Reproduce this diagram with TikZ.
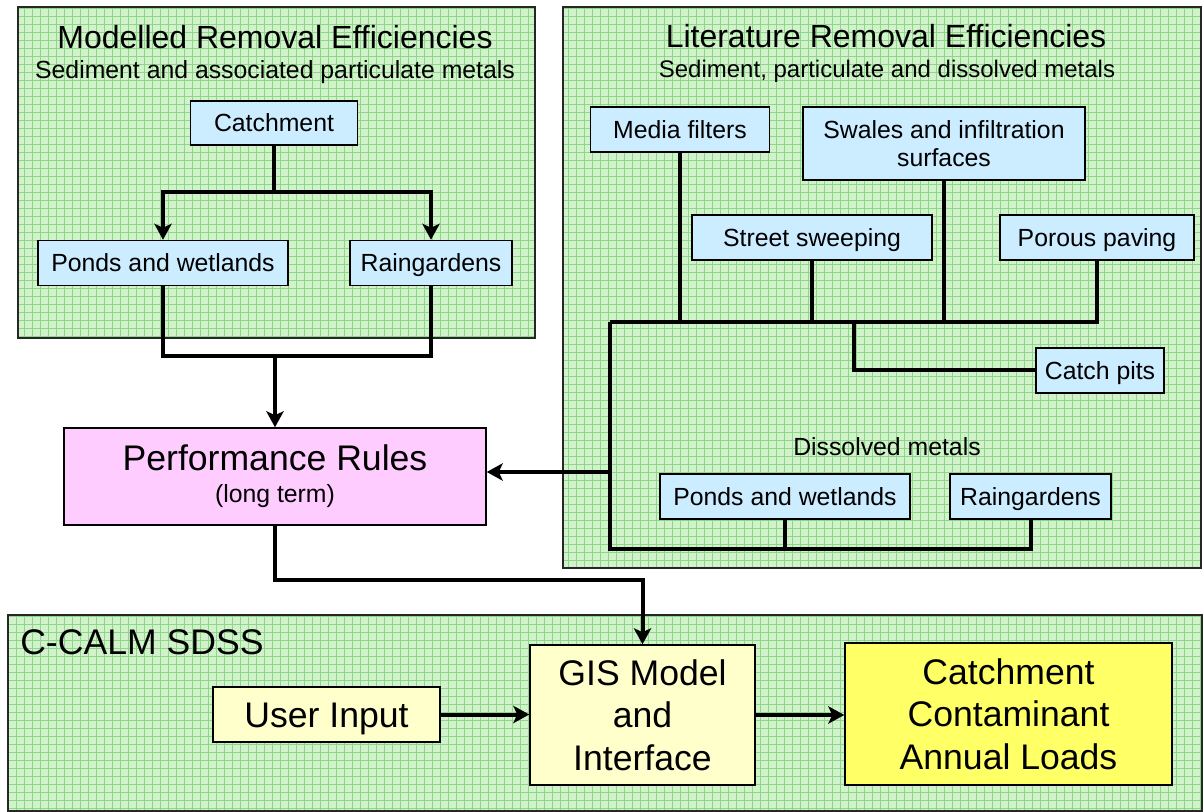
\documentclass[tikz,border=0pt]{standalone}
\usepackage{fontspec}
\setmainfont{Liberation Sans}
\usetikzlibrary{arrows.meta}
\definecolor{pgreen}{HTML}{D2F2CC}
\definecolor{ggrid}{HTML}{8CD888}
\definecolor{bbox}{HTML}{CCECFF}
\definecolor{pinkbox}{HTML}{FFCCFF}
\definecolor{ybox}{HTML}{FFFFCC}
\definecolor{ybright}{HTML}{FFFF66}
\tikzset{
  panel/.style={fill=pgreen, draw=black!85, line width=1pt},
  gridl/.style={draw=ggrid, line width=0.35pt},
  boxbase/.style={draw=black, line width=1.1pt, inner sep=0pt, align=center},
  bluebox/.style={boxbase, fill=bbox, font=\fontsize{18.6}{21}\selectfont, minimum height=33.75pt},
  oneline/.style={text height=15pt, text depth=1.7pt},
  onebig/.style={text height=21pt, text depth=1.9pt},
  conn/.style={line width=3pt, line join=miter},
  arr/.style={conn, -{Stealth[length=12pt,width=13pt,inset=3pt]}},
  big/.style={font=\fontsize{26.7}{32}\selectfont},
  mid/.style={font=\fontsize{18.6}{22}\selectfont},
  ttl/.style={font=\fontsize{24}{28}\selectfont},
}
\begin{document}
\begin{tikzpicture}[x=0.75pt,y=-0.75pt]
\useasboundingbox (0,0) rectangle (1203,812);
% panels
\draw[panel] (18,7) rectangle (535,338);
\draw[gridl,step=6pt] (18,338) grid (535,7);
\draw[panel,fill=none] (18,7) rectangle (535,338);
\draw[panel] (563,7) rectangle (1201,568);
\draw[gridl,step=6pt] (563,568) grid (1201,7);
\draw[panel,fill=none] (563,7) rectangle (1201,568);
\draw[panel] (8,615) rectangle (1202,811);
\draw[gridl,step=6pt] (8,811) grid (1202,615);
\draw[panel,fill=none] (8,615) rectangle (1202,811);

% titles
\node[ttl, inner sep=0pt] (t1) at (275,37) {Modelled Removal Efficiencies};
\node[mid, inner sep=0pt] (s1) at (275,72) {Sediment and associated particulate metals};
\node[ttl, inner sep=0pt] (t2) at (886,36) {Literature Removal Efficiencies};
\node[font=\fontsize{18}{22}\selectfont, inner sep=0pt] (s2) at (887,71) {Sediment, particulate and dissolved metals};
\node[mid, inner sep=0pt] (dm) at (887,447) {Dissolved metals};
\node[big, inner sep=0pt, anchor=west] (t3) at (20,642) {C-CALM SDSS};

% left panel boxes
\node[bluebox, oneline, minimum width=125.25pt, minimum height=33pt] (cat) at (274,123) {Catchment};
\node[bluebox, oneline, minimum width=187.5pt] (pwL) at (163,263) {Ponds and wetlands};
\node[bluebox, oneline, minimum width=121.5pt] (rgL) at (431,263) {Raingardens};

% performance rules
\node[boxbase, fill=pinkbox, minimum width=316.5pt, minimum height=72.75pt,
      font=\fontsize{26.7}{24}\selectfont] (perf) at (275,476.5)
      {Performance Rules\\{\fontsize{18.6}{22}\selectfont (long term)}};

% right panel boxes
\node[bluebox, oneline, minimum width=134.25pt] (media) at (680,129.5) {Media filters};
\node[bluebox, minimum width=211.5pt, minimum height=54.75pt] (swales) at (944,143.5) {Swales and infiltration\\surfaces};
\node[bluebox, oneline, minimum width=180pt] (street) at (812,237.5) {Street sweeping};
\node[bluebox, oneline, minimum width=145.5pt] (porous) at (1097,237.5) {Porous paving};
\node[bluebox, oneline, minimum width=96pt] (pits) at (1100,370.5) {Catch pits};
\node[bluebox, oneline, minimum width=187.5pt] (pwR) at (785,496.5) {Ponds and wetlands};
\node[bluebox, oneline, minimum width=120.75pt] (rgR) at (1030.5,496.5) {Raingardens};

% bottom boxes
\node[boxbase, fill=ybox, big, onebig, minimum width=170.25pt, minimum height=41.25pt] (ui) at (326.5,714.5) {User Input};
\node[boxbase, fill=ybox, big, minimum width=168.75pt, minimum height=105pt] (gis) at (642.5,715) {GIS Model\\and\\Interface};
\node[boxbase, fill=ybright, big, minimum width=245.25pt, minimum height=106.5pt] (ccal) at (1008.5,714) {Catchment\\Contaminant\\Annual Loads};

% coordinates
\coordinate (j1) at (274,192);
\coordinate (j2) at (275,356);
\coordinate (busL) at (610,322);
\coordinate (jp) at (854,322);
\coordinate (busB) at (610,549);
\coordinate (jA) at (610,472);
\coordinate (j3) at (460,580);

% left connectors
\draw[conn] (cat.south) -- (j1);
\draw[arr] (j1) -| (pwL.north);
\draw[arr] (j1) -| (rgL.north);
\draw[conn] (pwL.south) |- (j2) -| (rgL.south);
\draw[arr] (j2) -- (perf.north);

% right connectors
\draw[conn] (busL) -| (porous.south);
\draw[conn] (media.south) -- (media.south |- busL);
\draw[conn] (street.south) -- (street.south |- busL);
\draw[conn] (swales.south) -- (swales.south |- busL);
\draw[conn] (jp) |- (pits.west);
\draw[conn] (busL) -- (busB) -| (rgR.south);
\draw[conn] (pwR.south) -- (pwR.south |- busB);
\draw[arr] (jA) -- (jA -| perf.east);

% bottom connectors
\draw[arr] (perf.south) |- (j3) -| (gis.north);
\draw[arr] (ui.east) -- (gis.west |- ui.east);
\draw[arr] (gis.east) -- (ccal.west |- gis.east);
\end{tikzpicture}
\end{document}
